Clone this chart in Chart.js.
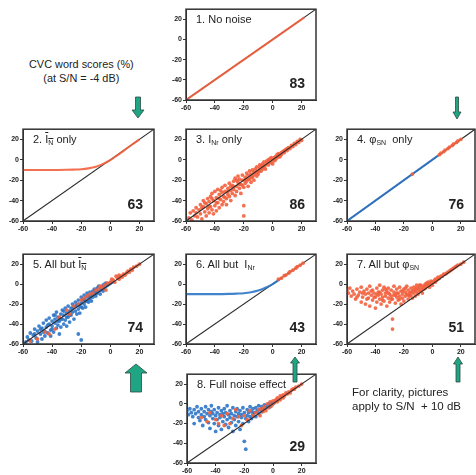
<!DOCTYPE html>
<html>
<head>
<meta charset="utf-8">
<script src="https://cdn.jsdelivr.net/npm/chart.js@4.4.0/dist/chart.umd.min.js"></script>
<style>
body{margin:0;background:#fff;width:476px;height:475px;overflow:hidden;position:relative;font-family:"Liberation Sans",Arial,sans-serif;color:#222}
canvas{position:absolute}
.ttl{position:absolute;font-size:11px;line-height:13px;white-space:nowrap}
.scr{position:absolute;font-size:14px;line-height:14px;font-weight:bold;text-align:right}
.note{position:absolute;font-size:11.5px;line-height:14px;white-space:nowrap}
.ob{text-decoration:overline}
sub{font-size:7px;line-height:0;vertical-align:-2px}
svg{position:absolute;left:0;top:0}
</style>
</head>
<body>
<canvas id="c1"></canvas><canvas id="c2"></canvas><canvas id="c3"></canvas><canvas id="c4"></canvas>
<canvas id="c5"></canvas><canvas id="c6"></canvas><canvas id="c7"></canvas><canvas id="c8"></canvas>

<div class="ttl" id="t1">1. No noise</div>
<div class="ttl" id="t2">2. <span class="ob">I<sub>N</sub></span> only</div>
<div class="ttl" id="t3">3. I<sub>Nr</sub> only</div>
<div class="ttl" id="t4">4. &phi;<sub>SN</sub> &nbsp;only</div>
<div class="ttl" id="t5">5. All but <span class="ob">I<sub>N</sub></span></div>
<div class="ttl" id="t6">6. All but &nbsp;I<sub>Nr</sub></div>
<div class="ttl" id="t7">7. All but &phi;<sub>SN</sub></div>
<div class="ttl" id="t8">8. Full noise effect</div>

<div class="note" style="left:29px;top:57px;text-align:center;font-size:10.9px">CVC word scores (%)<br>(at S/N = -4 dB)</div>
<div class="note" style="left:352px;top:385px">For clarity, pictures<br>apply to S/N &nbsp;+ 10 dB</div>

<svg width="476" height="475">
  <g fill="#1fa583" stroke="#2d4a42" stroke-width="0.8">
    <polygon points="135.5,97 140.5,97 140.5,110 144,110 138,118 132,110 135.5,110"/>
    <polygon points="455.5,97 458.5,97 458.5,112 461,112 457,119 453,112 455.5,112"/>
    <polygon points="136,364 147,373 141.5,373 141.5,392 130.5,392 130.5,373 125,373"/>
    <polygon points="295,357 299.5,363 297,363 297,382 293,382 293,363 290.5,363"/>
    <polygon points="458,357 462.5,364 460,364 460,382 456,382 456,364 453.5,364"/>
  </g>
</svg>

<script>
// axis ticks and ranges (same for every panel)
var tickVals = [-60, -40, -20, 0, 20];
var axMin = -60, axMax = 30;
var diagPts = [[-60, -60], [30, 30]];

// CVC word scores (%) per panel
var scores = [83, 63, 86, 76, 74, 43, 51, 29];

// 1. no noise
var p1Red = [[-60, -60], [22, 22]];

// 2. mean noise intensity only
var p2Red = [[-60, -10], [-50, -10], [-40, -10], [-30, -9.8], [-25, -9.6], [-20, -9.3], [-15, -8.4], [-10, -6.8],
  [-5, -4], [0, -0.3], [5, 4.6], [10, 9.8], [15, 15], [20, 20]];

// 3. random noise intensity only
var p3Red = [[-58,-57],[-57,-52],[-56,-59],[-55,-50],[-54,-55],[-53,-47],[-52,-56],[-51,-49],[-50,-53],[-50,-44],
  [-49,-58],[-48,-46],[-48,-40],[-47,-51],[-46,-43],[-46,-55],[-45,-38],[-45,-48],[-44,-52],[-44,-41],[-43,-36],
  [-43,-46],[-42,-49],[-42,-33],[-41,-40],[-41,-53],[-40,-45],[-40,-31],[-39,-37],[-39,-50],[-38,-42],[-38,-29],
  [-37,-34],[-37,-47],[-36,-39],[-36,-30],[-35,-44],[-35,-27],[-34,-36],[-34,-41],[-33,-31],[-33,-25],[-32,-38],
  [-32,-44],[-31,-28],[-31,-34],[-30,-23],[-30,-36],[-29,-30],[-29,-40],[-28,-25],[-28,-33],[-27,-21],[-27,-29],
  [-26,-35],[-26,-18],[-25,-26],[-25,-31],[-24,-22],[-24,-16],[-23,-28],[-23,-19],[-22,-24],[-22,-33],[-21,-15],
  [-21,-20],[-20,-27],[-20,-45],[-20,-55],[-19,-17],[-19,-23],[-18,-13],[-18,-21],[-17,-26],[-17,-15],[-16,-19],
  [-16,-11],[-15,-22],[-15,-14],[-14,-17],[-14,-10],[-13,-15],[-13,-20],[-12,-9],[-12,-13],[-11,-16],[-11,-7],
  [-10,-11],[-10,-14],[-9,-8],[-9,-5],[-8,-11],[-8,-6],[-7,-9],[-7,-4],[-6,-7],[-6,-2],[-5,-5],[-5,-9],[-4,-3],
  [-4,-1],[-3,-5],[-3,0],[-2,-2],[-2,1],[-1,-3],[-1,2],[0,0],[0,-4],[1,2],[1,-1],[2,3],[2,0],[3,2],[3,5],[4,3],
  [4,6],[5,5],[5,3],[6,7],[6,5],[7,8],[8,7],[8,9],[9,10],[10,9],[10,11],[11,12],[12,11],[13,14],[14,13],[15,16],
  [16,15],[17,18],[18,17],[19,20],[20,19],
  [-53,-52],[-49,-47],[-47,-42],[-44,-46],[-42,-38],[-39,-42],[-37,-38],[-35,-32],[-33,-37],[-31,-31],[-29,-26],
  [-27,-26],[-25,-20],[-23,-24],[-21,-25],[-19,-20],[-17,-19],[-15,-17],[-13,-12],[-11,-12],[-9,-11],[-7,-6]];

// 4. phase only
var p4Blue = [[-60, -60], [4, 4]];
var p4Red = [[-14,-14],[5,5],[6,6.5],[8,8],[9,9.5],[11,11],[12,12.5],[14,14],[15,15.5],[17,17],[18,18.5],[20,20]];

// 5. all but mean intensity
var p5Blue = [[-58,-58],[-57,-53],[-56,-56],[-55,-49],[-54,-57],[-53,-51],[-52,-45],[-51,-54],[-50,-47],[-50,-58],
  [-49,-42],[-48,-50],[-47,-44],[-47,-55],[-46,-39],[-45,-47],[-45,-52],[-44,-36],[-44,-43],[-43,-49],[-42,-40],
  [-42,-34],[-41,-46],[-41,-52],[-40,-37],[-40,-42],[-39,-31],[-39,-48],[-38,-39],[-38,-35],[-37,-44],[-37,-28],
  [-36,-41],[-36,-33],[-35,-37],[-35,-50],[-34,-30],[-34,-43],[-33,-35],[-33,-26],[-32,-40],[-32,-31],[-31,-36],
  [-31,-24],[-30,-29],[-30,-42],[-29,-33],[-29,-22],[-28,-27],[-28,-38],[-27,-24],[-27,-31],[-26,-20],[-26,-28],
  [-25,-35],[-25,-23],[-24,-18],[-24,-27],[-23,-30],[-23,-21],[-22,-16],[-22,-25],[-22,-50],[-21,-22],[-21,-29],
  [-20,-19],[-20,-13],[-20,-56],[-19,-24],[-19,-16],[-18,-20],[-18,-11],[-17,-17],[-17,-23],[-16,-13],[-16,-9],
  [-15,-18],[-15,-12],[-14,-15],[-14,-8],[-13,-11],[-13,-17],[-12,-7],[-12,-13],[-11,-10],[-11,-5],[-10,-12],
  [-10,-7],[-9,-9],[-9,-4],[-8,-7],[-8,-2],[-7,-6],[-7,-10],[-6,-3],[-6,-5],[-5,-1],[-5,-7],[-4,-4],[-4,0],
  [-3,-2],[-3,1],[-2,-1],[-1,0],[0,1],[1,2],
  [-52,-50],[-48,-45],[-46,-48],[-43,-41],[-40,-45],[-38,-31],[-36,-37],[-34,-35],[-32,-27],[-30,-33],[-28,-31],
  [-26,-24],[-24,-22],[-22,-20],[-20,-23],[-18,-15],[-16,-17],[-14,-12],[-12,-10],[-10,-9]];
var p5Red = [[5,6],[6,5],[7,8],[8,7],[9,10],[10,9],[11,11],[12,13],[13,12],[14,15],[15,14],[16,17],[18,18],[20,20],
  [2,4],[3,2],[0,2],[-2,1],[-4,-1],[-6,-3],[-8,-5],[-10,-6],[-12,-9],[-14,-10],[-16,-12],[-18,-14],[-20,-16],
  [-22,-20],[-25,-22],[-28,-30],[-30,-26],[-35,-33],[-38,-45],[-42,-50],[-45,-48],[-50,-55],[-55,-57],[-3,-6],
  [-7,-2],[1,5],[4,8],[6,9]];

// 6. all but random intensity
var p6Blue = [[-60, -10], [-50, -10], [-40, -10], [-30, -9.8], [-25, -9.5], [-20, -9.1], [-15, -8.2], [-10, -6.5],
  [-5, -3.6], [0, 0], [5, 4.8]];
var p6Red = [[4,5],[6,6],[8,8.5],[9,9],[11,11],[12,12.5],[14,14],[16,16],[17,17.5],[19,19],[21,21]];

// 7. all but phase
var p7Red = [[-60,-6],[-59,-9],[-58,-4],[-57,-12],[-56,-7],[-55,-10],[-54,-15],[-53,-5],[-52,-11],[-51,-8],
  [-50,-18],[-50,-3],[-49,-13],[-48,-7],[-47,-10],[-47,-20],[-46,-5],[-45,-14],[-45,-9],[-44,-22],[-44,-2],
  [-43,-11],[-42,-16],[-42,-6],[-41,-9],[-40,-13],[-40,-24],[-39,-4],[-39,-18],[-38,-8],[-38,-11],[-37,-15],
  [-37,-1],[-36,-10],[-36,-20],[-35,-6],[-35,-13],[-34,-17],[-34,-3],[-33,-9],[-33,-12],[-32,-22],[-32,-7],
  [-31,-14],[-31,-4],[-30,-10],[-30,-18],[-29,-6],[-29,-12],[-28,-35],[-28,-45],[-28,-15],[-27,-8],[-27,-2],
  [-26,-11],[-26,-19],[-25,-5],[-25,-13],[-24,-9],[-24,-16],[-23,-3],[-23,-12],[-22,-7],[-22,-20],[-21,-10],
  [-21,-14],[-20,-5],[-20,-17],[-19,-8],[-19,-12],[-18,-2],[-18,-10],[-17,-15],[-17,-6],[-16,-9],[-16,-12],
  [-15,-4],[-15,-11],[-14,-7],[-14,-14],[-13,-3],[-13,-9],[-12,-6],[-12,-12],[-11,-1],[-11,-8],[-10,-5],
  [-10,-10],[-9,-3],[-9,-7],[-8,-6],[-8,-1],[-7,-4],[-7,-9],[-6,-2],[-6,-5],[-5,0],[-5,-4],[-4,-2],[-4,1],
  [-3,-1],[-3,2],[-2,0],[-2,-3],[-1,1],[-1,3],[0,2],[0,-1],[1,3],[2,2],[2,5],[3,4],[4,5],[4,7],[5,6],[6,8],
  [7,8],[8,10],[9,10],[10,11],[11,12],[12,13],[13,14],[14,15],[15,16],[16,17],[17,18],[18,19],[20,20],[22,22],
  [-53,-13],[-49,-9],[-46,-15],[-43,-7],[-41,-13],[-39,-10],[-37,-8],[-35,-16],[-33,-5],[-31,-9],[-29,-15],
  [-27,-11],[-25,-9],[-23,-15],[-21,-7],[-19,-4],[-17,-11],[-15,-8],[-13,-6],[-11,-4],[-9,-1]];

// 8. full noise effect
var p8Blue = [[-60,-7],[-59,-11],[-58,-5],[-57,-9],[-56,-13],[-55,-6],[-55,-20],[-54,-10],[-53,-3],[-52,-14],
  [-52,-8],[-51,-17],[-50,-5],[-50,-11],[-49,-22],[-48,-8],[-48,-13],[-47,-3],[-47,-16],[-46,-10],[-45,-6],
  [-45,-19],[-44,-12],[-44,-25],[-43,-8],[-43,-2],[-42,-15],[-42,-10],[-41,-20],[-41,-6],[-40,-12],[-40,-28],
  [-39,-9],[-39,-16],[-38,-4],[-38,-22],[-37,-11],[-37,-14],[-36,-7],[-36,-26],[-35,-10],[-35,-18],[-34,-5],
  [-34,-13],[-33,-21],[-33,-9],[-32,-16],[-32,-2],[-31,-11],[-31,-24],[-30,-7],[-30,-14],[-29,-19],[-29,-10],
  [-28,-4],[-28,-28],[-27,-12],[-27,-16],[-26,-8],[-26,-22],[-25,-13],[-25,-5],[-24,-18],[-24,-10],[-23,-26],
  [-23,-7],[-22,-14],[-22,-11],[-21,-20],[-21,-4],[-20,-9],[-20,-38],[-19,-46],[-19,-15],[-18,-12],[-18,-6],
  [-17,-18],[-17,-9],[-16,-13],[-16,-3],[-15,-8],[-15,-15],[-14,-11],[-14,-5],[-13,-9],[-12,-13],[-12,-4],
  [-11,-7],[-10,-10],[-10,-2],[-9,-6],[-8,-8],[-8,-3],[-7,-5],[-6,-1],[-5,-4],[-4,-2],[-3,0],[-2,-3],[-1,1],
  [0,0],[2,3]];
var p8Red = [[-50,-14],[-46,-18],[-44,-9],[-40,-16],[-38,-20],[-36,-12],[-34,-22],[-32,-10],[-30,-20],[-28,-15],
  [-26,-6],[-24,-13],[-22,-22],[-20,-12],[-18,-16],[-16,-7],[-14,-12],[-12,-9],[-10,-6],[-9,-12],[-8,-5],[-7,-8],
  [-6,-3],[-5,-7],[-4,0],[-3,-4],[-2,2],[-1,-2],[0,3],[1,1],[2,4],[3,2],[3,6],[4,5],[5,4],[5,8],[6,7],[7,6],
  [7,9],[8,8],[9,11],[10,10],[11,12],[12,11],[13,14],[14,15],[15,15],[16,17],[18,18],[20,20]];

var RED = 'rgba(242,96,62,0.9)';
var BLUE = 'rgba(46,118,200,0.9)';
var YW = 24, XH = 14, PT = 3;

// plot-area boxes in page pixels
var boxes = [
  {x: 186, y: 7, w: 130, h: 93},
  {x: 23, y: 127, w: 131, h: 94},
  {x: 186, y: 127, w: 130, h: 94},
  {x: 347, y: 127, w: 128, h: 94},
  {x: 23, y: 252, w: 131, h: 92},
  {x: 186, y: 252, w: 130, h: 92},
  {x: 347, y: 252, w: 128, h: 92},
  {x: 187, y: 372, w: 129, h: 91}
];

function pts(a) {
  return a.map(function (p) { return {x: p[0], y: p[1]}; });
}
function dots(a, col) {
  return {data: pts(a), backgroundColor: col, borderWidth: 0, pointRadius: 1.9, pointHoverRadius: 1.9};
}
function curve(a, col) {
  return {data: pts(a), showLine: true, borderColor: col, borderWidth: 2.1, pointRadius: 0,
    cubicInterpolationMode: 'monotone'};
}
function diag() {
  return {data: pts(diagPts), showLine: true, borderColor: '#2a2a2a', borderWidth: 1.1, pointRadius: 0};
}

var frame = {
  id: 'frame',
  afterDraw: function (c) {
    var a = c.chartArea, x = c.ctx;
    x.save();
    x.strokeStyle = '#333';
    x.lineWidth = 1.5;
    x.strokeRect(a.left, a.top, a.right - a.left, a.bottom - a.top);
    x.restore();
  }
};

function axis(isY) {
  return {
    type: 'linear', min: axMin, max: axMax,
    afterBuildTicks: function (s) { s.ticks = tickVals.map(function (v) { return {value: v}; }); },
    afterFit: function (s) { if (isY) s.width = YW; else s.height = XH; },
    grid: {drawOnChartArea: false, tickLength: 3, color: '#333'},
    border: {color: '#333'},
    ticks: {font: {size: 7, weight: 'bold', family: '"Liberation Sans", Arial'}, color: '#222',
      padding: 1, maxRotation: 0, autoSkip: false}
  };
}

function panel(i, sets) {
  var b = boxes[i];
  var cv = document.getElementById('c' + (i + 1));
  cv.width = b.w + YW + 3;
  cv.height = b.h + XH + PT;
  cv.style.left = (b.x - YW) + 'px';
  cv.style.top = (b.y - PT) + 'px';
  new Chart(cv, {
    type: 'scatter',
    data: {datasets: sets},
    options: {
      responsive: false, animation: false, events: [],
      layout: {padding: {top: PT, right: 3, left: 0, bottom: 0}},
      plugins: {legend: {display: false}, tooltip: {enabled: false}},
      scales: {x: axis(false), y: axis(true)}
    },
    plugins: [frame]
  });
  var t = document.getElementById('t' + (i + 1));
  t.style.left = (b.x + 10) + 'px';
  t.style.top = (b.y + 6) + 'px';
  var s = document.createElement('div');
  s.className = 'scr';
  s.textContent = scores[i];
  s.style.left = (b.x + b.w - 40) + 'px';
  s.style.width = '29px';
  s.style.top = (b.y + b.h - 24) + 'px';
  document.body.appendChild(s);
}

// first dataset is drawn on top
panel(0, [curve(p1Red, RED), diag()]);
panel(1, [curve(p2Red, RED), diag()]);
panel(2, [diag(), dots(p3Red, RED)]);
panel(3, [dots(p4Red, RED), curve(p4Blue, BLUE), diag()]);
panel(4, [diag(), dots(p5Red, RED), dots(p5Blue, BLUE)]);
panel(5, [dots(p6Red, RED), curve(p6Blue, BLUE), diag()]);
panel(6, [diag(), dots(p7Red, RED)]);
panel(7, [diag(), dots(p8Red, RED), dots(p8Blue, BLUE)]);
</script>
</body>
</html>
